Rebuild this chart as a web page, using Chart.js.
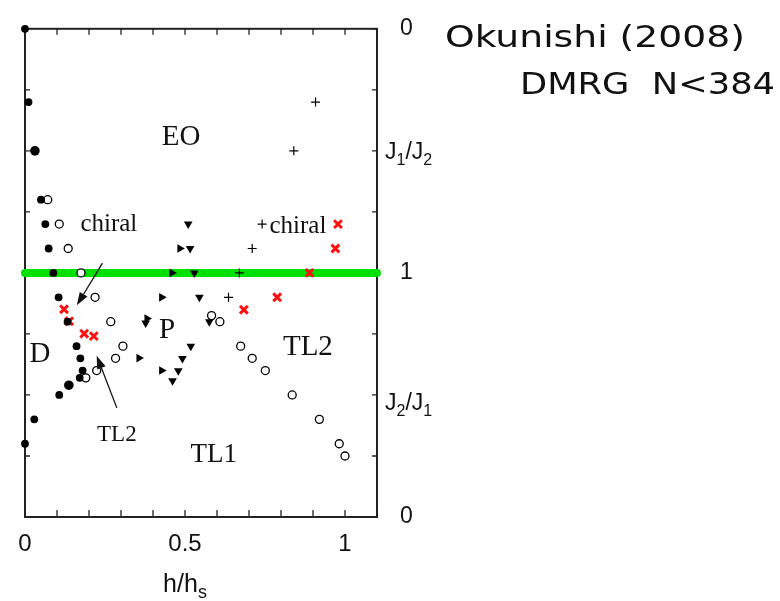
<!DOCTYPE html>
<html>
<head>
<meta charset="utf-8">
<script src="https://cdn.jsdelivr.net/npm/chart.js@4"></script>
<style>
  html,body{margin:0;padding:0;background:#fff;}
  #wrap{width:780px;height:601px;}
</style>
</head>
<body>
<div id="wrap"><canvas id="myChart" width="780" height="601"></canvas></div>
<script>
// y axis is folded: 2..1 is J1/J2 = 0..1 (top half), 1..0 is J2/J1 = 1..0 (bottom half)
const xTickVals = [0, 0.5, 1];
const xTickText = ['0', '0.5', '1'];
const yTickVals = [0, 1, 2];
const yTickText = ['0', '1', '0'];

const filledX = [0, 0.011, 0.031, 0.05, 0.0635, 0.074, 0.0885, 0.105, 0.133, 0.161, 0.173, 0.18, 0.171, 0.137, 0.107, 0.029, 0];
const filledY = [2.0, 1.70, 1.50, 1.30, 1.20, 1.10, 1.00, 0.90, 0.80, 0.70, 0.65, 0.60, 0.57, 0.54, 0.50, 0.40, 0.30];

const openX = [0.071, 0.107, 0.135, 0.175, 0.219, 0.268, 0.306, 0.283, 0.224, 0.19, 0.583, 0.609, 0.674, 0.71, 0.751, 0.835, 0.92, 0.982, 1.0];
const openY = [1.30, 1.20, 1.10, 1.00, 0.90, 0.80, 0.70, 0.65, 0.60, 0.57, 0.825, 0.80, 0.70, 0.65, 0.60, 0.50, 0.40, 0.30, 0.25];

const rightTriX = [0.484, 0.459, 0.427, 0.381, 0.356, 0.427];
const rightTriY = [1.10, 1.00, 0.90, 0.813, 0.651, 0.60];

const downTriX = [0.51, 0.516, 0.529, 0.545, 0.377, 0.576, 0.518, 0.492, 0.479, 0.461];
const downTriY = [1.20, 1.10, 1.00, 0.90, 0.795, 0.80, 0.70, 0.649, 0.599, 0.558];

const plusX = [0.908, 0.84, 0.741, 0.71, 0.67, 0.636];
const plusY = [1.70, 1.50, 1.20, 1.10, 1.00, 0.90];

const chiralX = [0.978, 0.97, 0.889, 0.788, 0.684, 0.122, 0.138, 0.185, 0.215];
const chiralY = [1.20, 1.10, 1.00, 0.90, 0.849, 0.851, 0.802, 0.751, 0.741];

const dotX = [0.306, 0.583];
const dotY = [0.70, 0.825];

const boundaryX = [0, 1.1];
const boundaryY = [1, 1];

const pts = (xs, ys) => xs.map((v, i) => ({x: v, y: ys[i]}));

// region labels and arrows (data coordinates)
const notes = [
  {t: 'EO', x: 0.488, y: 1.557, size: 29},
  {t: 'chiral', x: 0.262, y: 1.199, size: 25},
  {t: 'chiral', x: 0.853, y: 1.192, size: 25},
  {t: 'P', x: 0.444, y: 0.766, size: 29},
  {t: 'D', x: 0.047, y: 0.665, size: 29},
  {t: 'TL2', x: 0.884, y: 0.693, size: 29},
  {t: 'TL2', x: 0.287, y: 0.336, size: 23},
  {t: 'TL1', x: 0.59, y: 0.255, size: 27}
];
const arrows = [
  {from: [0.242, 1.04], to: [0.162, 0.867]},
  {from: [0.287, 0.447], to: [0.224, 0.661]}
];

const frame = {
  id: 'frame',
  beforeDatasetsDraw(chart) {
    const {ctx, chartArea: a, scales: {x, y}} = chart;
    ctx.save();
    ctx.strokeStyle = '#222';
    ctx.lineWidth = 2;
    ctx.strokeRect(a.left, a.top, a.right - a.left, a.bottom - a.top);
    ctx.lineWidth = 1.3;
    ctx.beginPath();
    for (let i = 0; i <= 11; i++) {
      const px = x.getPixelForValue(i / 10);
      ctx.moveTo(px, a.top); ctx.lineTo(px, a.top + 6);
      ctx.moveTo(px, a.bottom); ctx.lineTo(px, a.bottom - 7);
    }
    for (let i = 0; i <= 8; i++) {
      const py = y.getPixelForValue(i / 4);
      ctx.moveTo(a.left, py); ctx.lineTo(a.left + 5, py);
      ctx.moveTo(a.right, py); ctx.lineTo(a.right - 5, py);
    }
    ctx.stroke();
    ctx.restore();
  },
  afterDatasetsDraw(chart) {
    const {ctx, chartArea: a, scales: {x, y}} = chart;
    ctx.save();
    ctx.fillStyle = '#111';
    ctx.textAlign = 'center';
    ctx.textBaseline = 'middle';
    notes.forEach(n => {
      ctx.font = n.size + 'px "Liberation Serif", serif';
      ctx.fillText(n.t, x.getPixelForValue(n.x), y.getPixelForValue(n.y));
    });
    ctx.strokeStyle = '#111';
    ctx.lineWidth = 1.3;
    arrows.forEach(ar => {
      const x0 = x.getPixelForValue(ar.from[0]), y0 = y.getPixelForValue(ar.from[1]);
      const x1 = x.getPixelForValue(ar.to[0]), y1 = y.getPixelForValue(ar.to[1]);
      const ang = Math.atan2(y1 - y0, x1 - x0);
      const L = 13, W = 4.5;
      const bx = x1 - L * Math.cos(ang), by = y1 - L * Math.sin(ang);
      ctx.beginPath(); ctx.moveTo(x0, y0); ctx.lineTo(bx, by); ctx.stroke();
      ctx.beginPath();
      ctx.moveTo(x1, y1);
      ctx.lineTo(bx + W * Math.sin(ang), by - W * Math.cos(ang));
      ctx.lineTo(bx - W * Math.sin(ang), by + W * Math.cos(ang));
      ctx.closePath(); ctx.fill();
    });

    // axis titles with subscripts
    const sub = (parts, sx, cy, big, small, align) => {
      let w = 0;
      parts.forEach(p => { ctx.font = (p[1] ? small : big) + 'px "Liberation Sans", Arial, sans-serif'; w += ctx.measureText(p[0]).width; });
      let cx = align === 'center' ? sx - w / 2 : sx;
      ctx.textAlign = 'left';
      ctx.textBaseline = 'alphabetic';
      parts.forEach(p => {
        ctx.font = (p[1] ? small : big) + 'px "Liberation Sans", Arial, sans-serif';
        ctx.fillText(p[0], cx, cy + (p[1] ? big * 0.25 : 0));
        cx += ctx.measureText(p[0]).width;
      });
    };
    sub([['J'], ['1', 1], ['/J'], ['2', 1]], a.right + 8, y.getPixelForValue(1.5) + 8, 23, 16, 'left');
    sub([['J'], ['2', 1], ['/J'], ['1', 1]], a.right + 8, y.getPixelForValue(0.47) + 8, 23, 16, 'left');
    sub([['h/h'], ['s', 1]], x.getPixelForValue(0.5), 592, 25, 18, 'center');

    // title lines stretched to the reference widths
    const wide = (t, lx, cy, w) => {
      ctx.font = '31px "DejaVu Sans", sans-serif';
      const k = w / ctx.measureText(t).width;
      ctx.save();
      ctx.translate(lx, cy);
      ctx.scale(k, 1);
      ctx.textAlign = 'left';
      ctx.textBaseline = 'middle';
      ctx.fillText(t, 0, 0);
      ctx.restore();
    };
    wide('Okunishi (2008)', 445, 39, 300);
    wide('DMRG  N<384', 520, 86, 255);
    ctx.restore();
  }
};

const ctx = document.getElementById('myChart');

new Chart(ctx, {
  type: 'scatter',
  data: {
    datasets: [
      {label: 'boundary', type: 'line', data: pts(boundaryX, boundaryY), borderColor: '#00e000', borderWidth: 8,
       borderCapStyle: 'round', pointRadius: 0, order: 10, clip: false},
      {label: 'filled', data: pts(filledX, filledY), pointStyle: 'circle', backgroundColor: '#000', borderColor: '#000',
       pointRadius: filledX.map((v, i) => (i === 2 || i === 13) ? 4.8 : 3.9), borderWidth: 0, clip: false},
      {label: 'open', data: pts(openX, openY), pointStyle: 'circle', backgroundColor: '#fff', borderColor: '#000',
       pointRadius: 4, borderWidth: 1.3, clip: false},
      {label: 'dot', data: pts(dotX, dotY), pointStyle: 'circle', backgroundColor: '#000', borderColor: '#000',
       pointRadius: 1.8, borderWidth: 0, clip: false},
      {label: 'right', data: pts(rightTriX, rightTriY), pointStyle: 'triangle', rotation: 90, backgroundColor: '#000',
       borderColor: '#000', pointRadius: 5, borderWidth: 0, clip: false},
      {label: 'down', data: pts(downTriX, downTriY), pointStyle: 'triangle', rotation: 180, backgroundColor: '#000',
       borderColor: '#000', pointRadius: 5, borderWidth: 0, clip: false},
      {label: 'plus', data: pts(plusX, plusY), pointStyle: 'cross', borderColor: '#000', pointRadius: 4.5,
       borderWidth: 1.2, clip: false},
      {label: 'chiral', data: pts(chiralX, chiralY), pointStyle: 'crossRot', borderColor: '#ff1010', pointRadius: 5.5,
       borderWidth: 3, clip: false}
    ]
  },
  options: {
    responsive: false,
    animation: false,
    events: [],
    layout: {padding: {top: 24, left: 25, right: 0, bottom: 0}},
    plugins: {legend: {display: false}, tooltip: {enabled: false}},
    scales: {
      x: {
        type: 'linear', position: 'bottom', min: 0, max: 1.1,
        grid: {display: false}, border: {display: false},
        afterBuildTicks: s => { s.ticks = xTickVals.map(v => ({value: v})); },
        afterFit: s => { s.height = 84; },
        ticks: {
          padding: 5, color: '#111', maxRotation: 0, autoSkip: false,
          font: {family: '"Liberation Sans", Arial, sans-serif', size: 24},
          callback: v => xTickText[xTickVals.indexOf(v)]
        }
      },
      y: {
        type: 'linear', position: 'right', min: 0, max: 2,
        grid: {display: false}, border: {display: false},
        afterBuildTicks: s => { s.ticks = yTickVals.map(v => ({value: v})); },
        afterFit: s => { s.width = 403; },
        ticks: {
          padding: 15, color: '#111', autoSkip: false,
          font: {family: '"Liberation Sans", Arial, sans-serif', size: 23},
          callback: v => yTickText[yTickVals.indexOf(v)]
        }
      }
    }
  },
  plugins: [frame]
});
</script>
</body>
</html>
